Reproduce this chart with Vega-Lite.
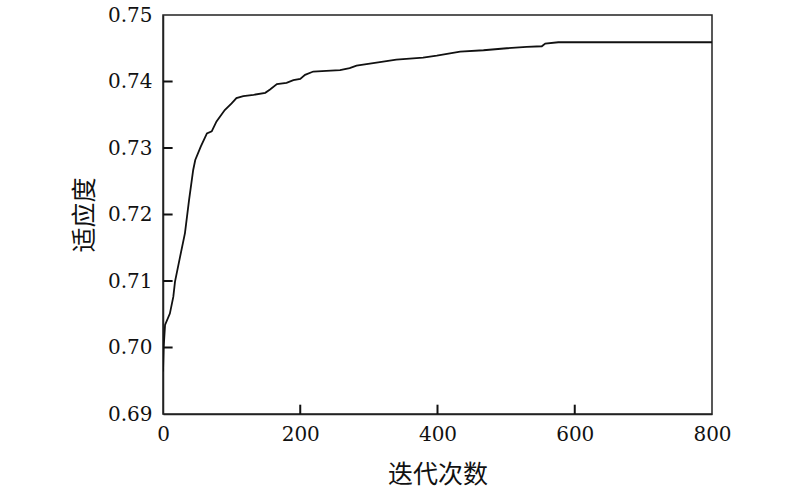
{
  "$schema": "https://vega.github.io/schema/vega-lite/v6.json",
  "width": 549,
  "height": 399,
  "autosize": {"type": "none"},
  "padding": {"left": 163, "top": 15, "right": 88, "bottom": 76},
  "background": "white",
  "config": {
    "view": {"stroke": "#222", "strokeWidth": 1.5},
    "axis": {
      "domainColor": "#222", "domainWidth": 1.5,
      "labelFont": "DejaVu Serif", "labelFontSize": 20, "labelColor": "#111",
      "titleFont": "Noto Sans CJK SC", "titleFontSize": 25, "titleFontWeight": "normal", "titleColor": "#111",
      "grid": false
    }
  },
  "layer": [
    {
      "data": {"values": [
        {"iter": 0, "fit": 0.6964},
        {"iter": 1, "fit": 0.7001},
        {"iter": 3, "fit": 0.7034},
        {"iter": 10, "fit": 0.7051},
        {"iter": 15, "fit": 0.7076},
        {"iter": 17.5, "fit": 0.7099},
        {"iter": 25, "fit": 0.7137},
        {"iter": 32, "fit": 0.7172},
        {"iter": 38, "fit": 0.7222},
        {"iter": 44, "fit": 0.7267},
        {"iter": 47, "fit": 0.7282},
        {"iter": 55, "fit": 0.7302},
        {"iter": 64, "fit": 0.7322},
        {"iter": 71, "fit": 0.7325},
        {"iter": 78, "fit": 0.7340},
        {"iter": 90, "fit": 0.7357},
        {"iter": 100, "fit": 0.7367},
        {"iter": 107, "fit": 0.7375},
        {"iter": 117, "fit": 0.7378},
        {"iter": 132, "fit": 0.7380},
        {"iter": 149, "fit": 0.7383},
        {"iter": 156, "fit": 0.7388},
        {"iter": 166, "fit": 0.7396},
        {"iter": 180, "fit": 0.7398},
        {"iter": 190, "fit": 0.7402},
        {"iter": 200, "fit": 0.7404},
        {"iter": 207, "fit": 0.7410},
        {"iter": 219, "fit": 0.7415},
        {"iter": 238, "fit": 0.7416},
        {"iter": 258, "fit": 0.7417},
        {"iter": 272, "fit": 0.7420},
        {"iter": 282, "fit": 0.7424},
        {"iter": 316, "fit": 0.7429},
        {"iter": 340, "fit": 0.7433},
        {"iter": 379, "fit": 0.7436},
        {"iter": 399, "fit": 0.7439},
        {"iter": 433, "fit": 0.7445},
        {"iter": 467, "fit": 0.7447},
        {"iter": 501, "fit": 0.7450},
        {"iter": 530, "fit": 0.7452},
        {"iter": 552, "fit": 0.7453},
        {"iter": 557, "fit": 0.7457},
        {"iter": 576, "fit": 0.7459},
        {"iter": 800, "fit": 0.7459}
      ]},
      "mark": {"type": "line", "color": "#111", "strokeWidth": 1.8, "clip": true},
      "encoding": {
        "x": {
          "field": "iter", "type": "quantitative",
          "scale": {"domain": [0, 800], "nice": false},
          "axis": {"values": [0, 200, 400, 600, 800], "title": "迭代次数", "ticks": false, "labelPadding": 10, "titlePadding": 18, "labelFlush": false}
        },
        "y": {
          "field": "fit", "type": "quantitative",
          "scale": {"domain": [0.69, 0.75], "nice": false, "zero": false},
          "axis": {"values": [0.69, 0.70, 0.71, 0.72, 0.73, 0.74, 0.75], "format": ".2f", "title": "适应度", "ticks": false, "labelPadding": 11, "titlePadding": 10, "labelFlush": false}
        }
      }
    },
    {
      "data": {"values": [{"v": 0.70}, {"v": 0.71}, {"v": 0.72}, {"v": 0.73}, {"v": 0.74}]},
      "mark": {"type": "rule", "color": "#111", "strokeWidth": 2},
      "encoding": {
        "y": {"field": "v", "type": "quantitative"},
        "x": {"datum": 0},
        "x2": {"datum": 14}
      }
    },
    {
      "data": {"values": [{"t": 200}, {"t": 400}, {"t": 600}]},
      "mark": {"type": "rule", "color": "#111", "strokeWidth": 2},
      "encoding": {
        "x": {"field": "t", "type": "quantitative"},
        "y": {"datum": 0.69},
        "y2": {"datum": 0.6914}
      }
    }
  ]
}
